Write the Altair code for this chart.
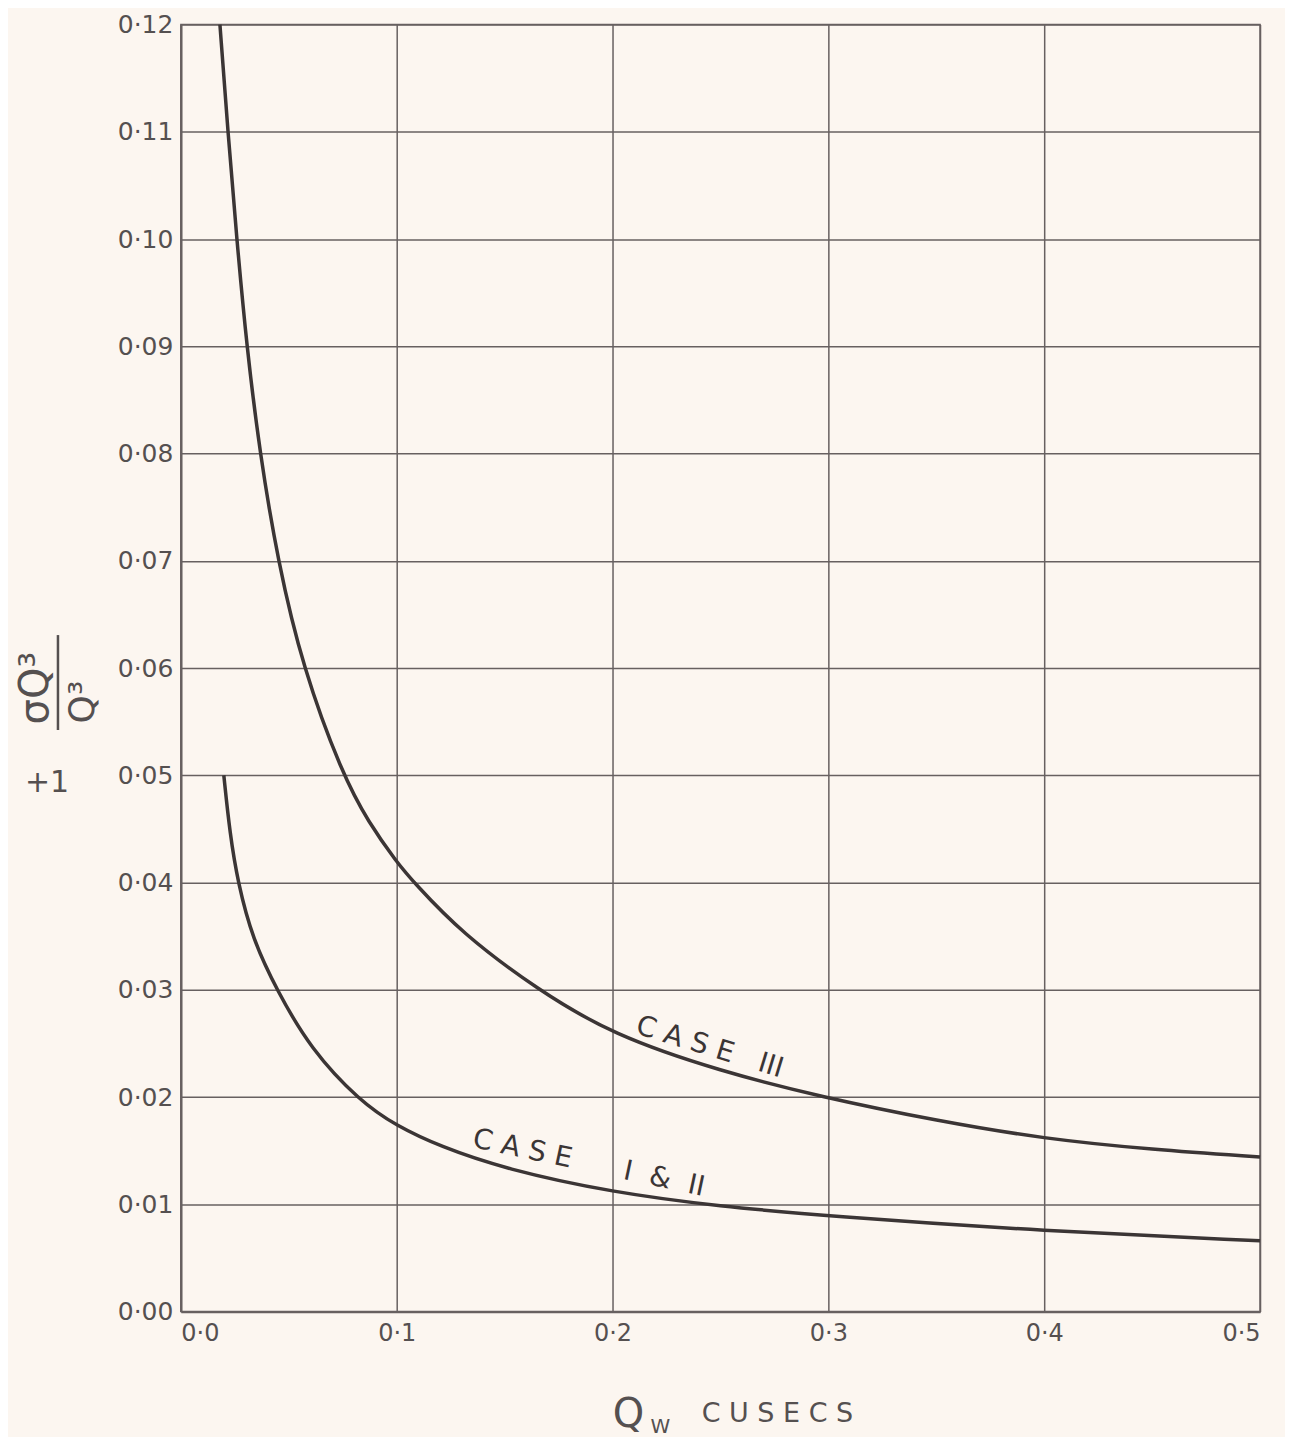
import altair as alt
import pandas as pd

# ---- data ----
case3_x = [0.0181, 0.0218, 0.0259, 0.0305, 0.0366, 0.0449, 0.0565, 0.075, 0.087, 0.100,
           0.108, 0.130, 0.1653, 0.200, 0.250, 0.297, 0.350, 0.400, 0.450, 0.500]
case3_y = [0.120, 0.110, 0.100, 0.090, 0.080, 0.070, 0.060, 0.050, 0.0456, 0.0419,
           0.0400, 0.0353, 0.0300, 0.0258, 0.0224, 0.0200, 0.0178, 0.0161, 0.0151, 0.0144]

case12_x = [0.0199, 0.0227, 0.0264, 0.0333, 0.0444, 0.060, 0.083, 0.100, 0.120, 0.150,
            0.200, 0.250, 0.300, 0.400, 0.500]
case12_y = [0.0500, 0.0446, 0.0400, 0.0347, 0.0300, 0.0245, 0.0196, 0.0173, 0.0154, 0.0133,
            0.0111, 0.0098, 0.0089, 0.0075, 0.0066]

x_ticks = [0.0, 0.1, 0.2, 0.3, 0.4, 0.5]
y_ticks = [round(i * 0.01, 2) for i in range(13)]

NB = "\u00a0"
label_texts = [NB.join("CASE") + NB * 3 + "III",
               NB.join("CASE") + NB * 6 + "I" + NB * 2 + "&" + NB * 2 + "II"]
label_x = [0.245, 0.189]
label_y = [0.0246, 0.0138]

# ---- styles ----
BG = "#fcf6f0"
INK = "#3b3535"
GRID = "#676060"
TXT = "#555050"
FONT = "DejaVu Sans"

df = pd.concat([
    pd.DataFrame({"q": case3_x, "v": case3_y, "case": "III"}),
    pd.DataFrame({"q": case12_x, "v": case12_y, "case": "I & II"}),
], ignore_index=True)

xscale = alt.Scale(domain=[0, 0.5], nice=False, zero=False)
yscale = alt.Scale(domain=[0, 0.12], nice=False, zero=False)

xaxis = alt.Axis(values=x_ticks, title=None, grid=True, ticks=False,
                 labelExpr="replace(format(datum.value, '.1f'), '.', '·')",
                 labelFont=FONT, labelFontSize=24, labelColor=TXT, labelPadding=10,
                 gridColor=GRID, gridWidth=1.5, gridOpacity=1,
                 domainColor=GRID, domainWidth=2.2)
yaxis = alt.Axis(values=y_ticks, title=None, grid=True, ticks=False,
                 labelExpr="replace(format(datum.value, '.2f'), '.', '·')",
                 labelFont=FONT, labelFontSize=25, labelColor=TXT, labelPadding=8,
                 gridColor=GRID, gridWidth=1.5, gridOpacity=1,
                 domainColor=GRID, domainWidth=2.2)

lines = alt.Chart(df).mark_line(color=INK, strokeWidth=3.5, interpolate="basis").encode(
    x=alt.X("q:Q", scale=xscale, axis=xaxis),
    y=alt.Y("v:Q", scale=yscale, axis=yaxis),
    detail="case:N",
    order="q:Q",
)

lab3 = alt.Chart(pd.DataFrame({"q": [label_x[0]], "v": [label_y[0]], "t": [label_texts[0]]})).mark_text(
    font=FONT, fontSize=28, color=INK, angle=17, align="center", baseline="middle"
).encode(x=alt.X("q:Q", scale=xscale), y=alt.Y("v:Q", scale=yscale), text="t:N")

lab12 = alt.Chart(pd.DataFrame({"q": [label_x[1]], "v": [label_y[1]], "t": [label_texts[1]]})).mark_text(
    font=FONT, fontSize=28, color=INK, angle=12, align="center", baseline="middle"
).encode(x=alt.X("q:Q", scale=xscale), y=alt.Y("v:Q", scale=yscale), text="t:N")

one = pd.DataFrame({"a": [0]})

def txt(s, x, y, size, angle=0):
    return alt.Chart(one).mark_text(
        text=s, font=FONT, fontSize=size, color=TXT, angle=angle,
        align="center", baseline="middle"
    ).encode(x=alt.value(x), y=alt.value(y))

num = txt("σQ³", -145, 664, 40, 270)
den = txt("Q³", -98, 678, 36, 270)
bar = alt.Chart(one).mark_rule(color=TXT, strokeWidth=2.5).encode(
    x=alt.value(-123), y=alt.value(611), y2=alt.value(706))
plus = txt("+1", -134, 759, 30)

xq = txt("Q", 448, 1392, 40)
xw = txt("W", 480, 1404, 20)
xc = txt(NB.join("CUSECS"), 597, 1391, 27)

chart = alt.layer(lines, lab3, lab12, num, den, bar, plus, xq, xw, xc).properties(
    width=1080, height=1288,
    autosize=alt.AutoSizeParams(type="none"),
    padding={"left": 173, "top": 16, "right": 25, "bottom": 125},
    background=BG,
).configure_view(stroke=GRID, strokeWidth=1.5)

chart.save("out.html", embed_options={"renderer": "svg", "actions": False})
